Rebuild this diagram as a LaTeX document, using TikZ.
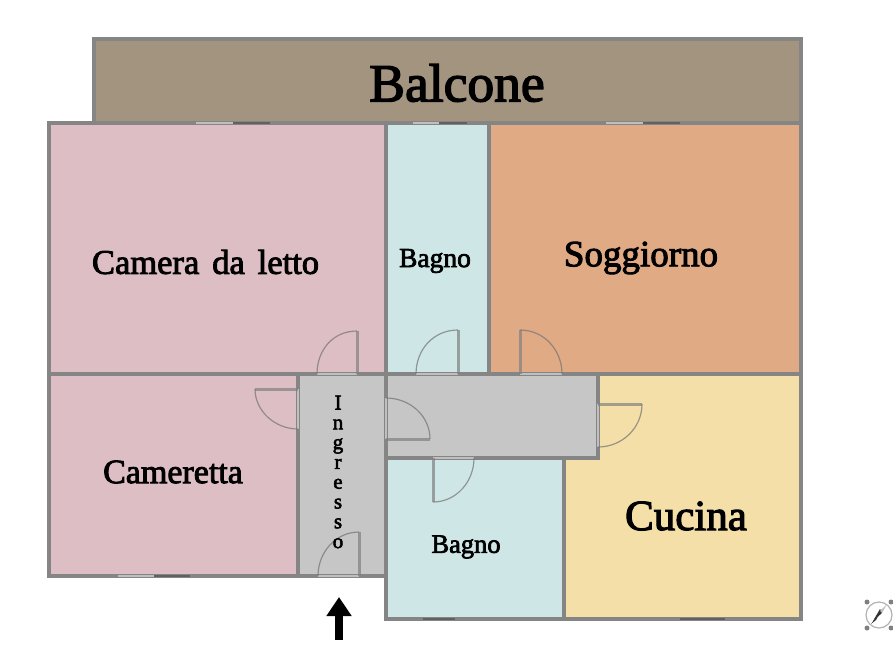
\documentclass[tikz,border=0pt]{standalone}
\usepackage{fontspec}
\setmainfont[FakeBold=2.6,WordSpace=1.5]{Liberation Serif}
\usetikzlibrary{arrows.meta}
\definecolor{wallgray}{HTML}{858585}
\definecolor{balconecol}{HTML}{A39480}
\definecolor{cameracol}{HTML}{DDBEC5}
\definecolor{bagnocol}{HTML}{CFE6E6}
\definecolor{soggiornocol}{HTML}{E0AA85}
\definecolor{ingressocol}{HTML}{C6C6C6}
\definecolor{cucinacol}{HTML}{F5DFA8}
\newcommand{\roomfont}[1]{\fontsize{#1}{#1}\selectfont}

\begin{document}
\begin{tikzpicture}[
        x=1pt, y=-1pt,
        room/.style={draw=wallgray, line width=3.1pt, line join=miter},
        label/.style={text=black, inner sep=0pt},
        leaf/.style={draw=black!50, draw opacity=0.7, line width=3pt},
        swing/.style={draw=black!55, draw opacity=0.7, line width=1.2pt},
        gap/.style={draw=black!25, line width=1.8pt},
        pane/.style={draw=black!62, line width=1.4pt}
        ]
        \useasboundingbox (0,0) rectangle (893,670);

        % Rooms
        \fill[white] (0,0) rectangle (893,670);
        \draw[room, fill=balconecol] (94,39) rectangle (801,123);
        \draw[room, fill=cameracol] (49,123) rectangle (386,374);
        \draw[room, fill=bagnocol] (386,123) rectangle (489,374);
        \draw[room, fill=soggiornocol] (489,123) rectangle (801,374);
        \draw[room, fill=cameracol] (49,374) rectangle (298,576);
        \draw[room, fill=bagnocol] (386,458) rectangle (564,619);
        \draw[room, fill=cucinacol] (598,374) -- (801,374) -- (801,619) -- (564,619) -- (564,458) -- (598,458) -- cycle;
        \draw[room, fill=ingressocol] (298,374) rectangle (386,576);
        \draw[room, fill=ingressocol] (386,374) -- (598,374) -- (598,458) -- (386,458) -- cycle;

        % Windows
        \draw[gap] (196,123) -- (233,123);
        \draw[pane] (233,123) -- (270,123);
        \draw[gap] (413,123) -- (439,123);
        \draw[pane] (439,123) -- (467,123);
        \draw[gap] (606,123) -- (643,123);
        \draw[pane] (643,123) -- (680,123);
        \draw[gap] (118,576) -- (154,576);
        \draw[pane] (154,576) -- (190,576);
        \draw[pane] (423,619) -- (455,619);
        \draw[pane] (680,619) -- (725,619);

        % Doors
        \draw[gap] (317,374) -- (357,374);
        \draw[leaf] (357,374) -- (357,331);
        \draw[swing] (317,374) .. controls (317,350) and (333,331) .. (357,331);

        \draw[gap] (416,374) -- (458,374);
        \draw[leaf] (458,374) -- (458,330);
        \draw[swing] (416,374) .. controls (416,350) and (433,330) .. (458,330);

        \draw[gap] (520,374) -- (562,374);
        \draw[leaf] (520,374) -- (520,330);
        \draw[swing] (562,374) .. controls (562,350) and (544,330) .. (520,330);

        \draw[gap] (298,389) -- (298,429);
        \draw[leaf] (298,389) -- (255,389);
        \draw[swing] (255,389) .. controls (255,411) and (275,429) .. (298,429);

        \draw[gap] (386,398) -- (386,439);
        \draw[leaf] (386,439) -- (430,439);
        \draw[swing] (430,439) .. controls (430,416) and (410,398) .. (386,398);

        \draw[gap] (598,404) -- (598,447);
        \draw[leaf] (598,404) -- (642,404);
        \draw[swing] (642,404) .. controls (642,428) and (622,447) .. (598,447);

        \draw[gap] (433,458) -- (474,458);
        \draw[leaf] (433,458) -- (433,502);
        \draw[swing] (433,502) .. controls (456,502) and (474,482) .. (474,458);

        \draw[gap] (318,576) -- (359,576);
        \draw[leaf] (359,576) -- (359,532);
        \draw[swing] (318,576) .. controls (318,552) and (336,532) .. (359,532);

        % Labels
        \node (balcone) [label, font=\roomfont{53.5}] at (457,83) {Balcone};
        \node (camera) [label, font=\roomfont{34.5}] at (205.5,262) {Camera da letto};
        \node (bagno1) [label, font=\roomfont{27.5}] at (435,261) {Bagno};
        \node (soggiorno) [label, font=\roomfont{37}] at (641,258) {Soggiorno};
        \node (cameretta) [label, font=\roomfont{34}] at (173,472) {Cameretta};
        \node (cucina) [label, font=\roomfont{43}] at (686,516) {Cucina};
        \node (bagno2) [label, font=\roomfont{26.5}] at (466,547) {Bagno};
        \node (ingresso) [label, align=center, font=\fontsize{21}{19.8}\selectfont] at (338,472) {I\\n\\g\\r\\e\\s\\s\\o};

        % Entrance arrow
        \coordinate (arrowtail) at (339,640);
        \coordinate (arrowtip) at (339,597);
        \draw[-{Triangle[length=19pt,width=24pt]}, line width=8pt] (arrowtail) -- (arrowtip);

        % Compass
        \coordinate (compass) at (879,615);
        \draw[black!30, line width=1.2pt] (compass) circle (13);
        \fill[black!80] (871,624) -- (882,609) -- (876,620) -- cycle;
        \fill[black!80] (873,621) -- (880,609) -- (882,613) -- cycle;
        \fill[black!25] (880,611) -- (887,604) -- (882,613) -- cycle;
        \foreach \dotx/\doty in {867/602, 867/628, 891/602, 891/628}
            \fill[black!50] (\dotx,\doty) circle (2.5);
\end{tikzpicture}
\end{document}
